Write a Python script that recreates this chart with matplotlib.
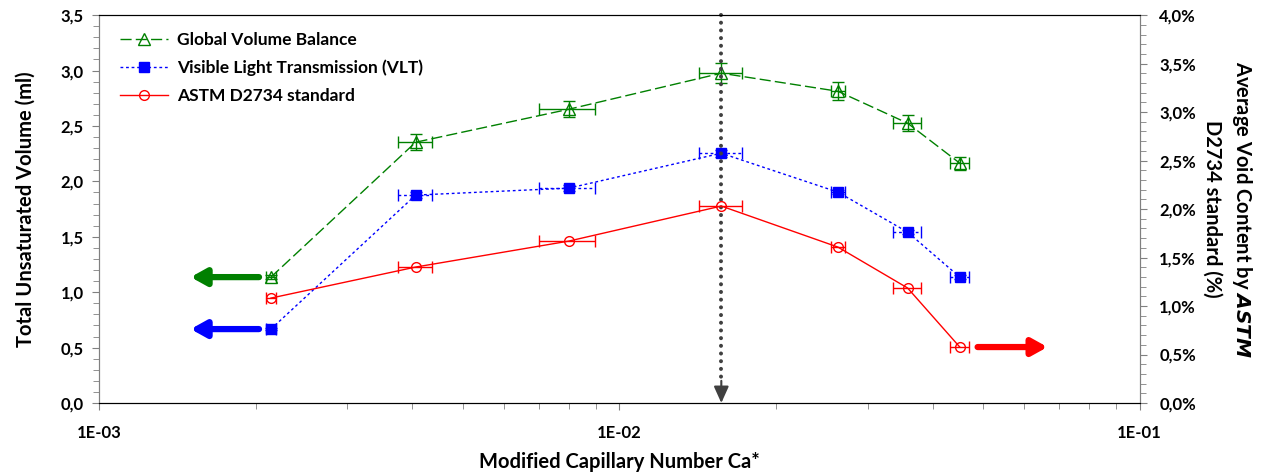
import numpy as np
import matplotlib
matplotlib.use('Agg')
import matplotlib.pyplot as plt
from matplotlib.ticker import FuncFormatter, LogLocator, MultipleLocator

plt.rcParams['font.family'] = ['Lato', 'DejaVu Sans']
plt.rcParams['font.weight'] = 'bold'
plt.rcParams['mathtext.fontset'] = 'custom'
plt.rcParams['mathtext.it'] = 'DejaVu Sans:italic:bold'
plt.rcParams['mathtext.bf'] = 'Lato:bold'
plt.rcParams['mathtext.rm'] = 'Lato:bold'

# capillary numbers and their spread
ca = [2.14e-3, 4.06e-3, 8.0e-3, 1.57e-2, 2.63e-2, 3.58e-2, 4.51e-2]
ca_err = [0.05e-3, 0.30e-3, 0.99e-3, 1.48e-3, 0.8e-3, 2.25e-3, 1.87e-3]

# global volume balance (ml)
gvb = [1.136, 2.353, 2.651, 2.976, 2.813, 2.525, 2.164]
gvb_err = [0.02, 0.07, 0.07, 0.09, 0.08, 0.07, 0.06]

# visible light transmission (ml)
vlt = [0.667, 1.876, 1.939, 2.254, 1.903, 1.542, 1.136]
vlt_err = [0.01, 0.03, 0.03, 0.03, 0.02, 0.02, 0.02]

# ASTM D2734 void content (%)
astm = [1.082, 1.402, 1.670, 2.031, 1.608, 1.186, 0.577]

ca_peak = 1.57e-2

green = '#008000'
blue = '#0000FF'
red = '#FF0000'

fig = plt.figure(figsize=(12.63, 4.73), dpi=100)
ax = fig.add_axes([0.0784, 0.148, 0.824, 0.820])
ax2 = ax.twinx()

# error bars first, then the lines with markers on top
ax.errorbar(ca, gvb, xerr=ca_err, yerr=gvb_err, fmt='none', ecolor=green,
            elinewidth=1, capsize=4, capthick=1)
eb2 = ax.errorbar(ca, vlt, xerr=ca_err, yerr=vlt_err, fmt='none', ecolor=blue,
                  elinewidth=1, capsize=4, capthick=1)
for lc in eb2[2]:
    lc.set_linestyle((0, (2, 2)))
ax2.errorbar(ca, astm, xerr=ca_err, fmt='none', ecolor=red,
             elinewidth=1, capsize=4, capthick=1)

l1, = ax.plot(ca, gvb, color=green, lw=1, ls=(0, (8, 3)), marker='^', ms=8,
              mfc='none', mec=green, mew=1)
l2, = ax.plot(ca, vlt, color=blue, lw=1, ls=(0, (2, 2)), marker='s', ms=7,
              mfc=blue, mec=blue)
l3, = ax2.plot(ca, astm, color=red, lw=1, ls='-', marker='o', ms=7,
               mfc='none', mec=red, mew=1)

# dotted guide at the peak
ax.plot([ca_peak, ca_peak], [3.5, 0.2], color='#404040', lw=2.9,
        ls=(0, (0.01, 1.9)), dash_capstyle='round', zorder=5, clip_on=False)
ax.annotate('', xy=(ca_peak, 0.0), xytext=(ca_peak, 0.2),
            arrowprops=dict(arrowstyle='-|>,head_length=1.0,head_width=0.45',
                            color='#404040', lw=1.5, shrinkA=0, shrinkB=0),
            zorder=6)

# arrows pointing to the relevant axis
ax.annotate('', xy=(1.50e-3, gvb[0]), xytext=(2.03e-3, gvb[0]),
            arrowprops=dict(arrowstyle='-|>,head_length=0.9,head_width=0.5',
                            color=green, lw=4.5, shrinkA=0, shrinkB=0))
ax.annotate('', xy=(1.50e-3, vlt[0]), xytext=(2.03e-3, vlt[0]),
            arrowprops=dict(arrowstyle='-|>,head_length=0.9,head_width=0.5',
                            color=blue, lw=4.5, shrinkA=0, shrinkB=0))
ax2.annotate('', xy=(6.65e-2, astm[-1]), xytext=(4.88e-2, astm[-1]),
             arrowprops=dict(arrowstyle='-|>,head_length=0.9,head_width=0.5',
                             color=red, lw=4.5, shrinkA=0, shrinkB=0))

ax.set_xscale('log')
ax.set_xlim(1e-3, 1e-1)
ax.set_ylim(0, 3.5)
ax2.set_ylim(0, 4)

ax.xaxis.set_major_locator(LogLocator(base=10, numticks=5))
ax.xaxis.set_minor_locator(LogLocator(base=10, subs=np.arange(2, 10), numticks=20))
ax.xaxis.set_major_formatter(FuncFormatter(lambda v, p: '1E-%02d' % round(-np.log10(v))))
ax.xaxis.set_minor_formatter(FuncFormatter(lambda v, p: ''))

ax.yaxis.set_major_locator(MultipleLocator(0.5))
ax.yaxis.set_minor_locator(MultipleLocator(0.1))
ax.yaxis.set_major_formatter(FuncFormatter(lambda v, p: f'{v:.1f}'.replace('.', ',')))
ax2.yaxis.set_major_locator(MultipleLocator(0.5))
ax2.yaxis.set_minor_locator(MultipleLocator(0.1))
ax2.yaxis.set_major_formatter(FuncFormatter(lambda v, p: f'{v:.1f}%'.replace('.', ',')))

for a in (ax, ax2):
    a.tick_params(which='both', direction='out', color='#808080', labelsize=12)
    a.tick_params(which='major', length=5, pad=6)
    a.tick_params(which='minor', length=4)
    a.spines['left'].set_color('#808080')
    a.spines['right'].set_color('#808080')
ax.tick_params(axis='x', which='both', pad=11)
ax2.tick_params(axis='y', which='major', pad=9)

ax.set_xlabel('Modified Capillary Number Ca*', fontsize=14.5, fontweight='bold', labelpad=8)
ax.set_ylabel('Total Unsaturated Volume (ml)', fontsize=14.5, fontweight='bold', labelpad=18)
ax2.set_ylabel('Average Void Content by $\\mathit{ASTM}$\nD2734 standard (%)',
               fontsize=14.5, fontweight='bold', rotation=270, labelpad=42,
               linespacing=1.5)

ax2.legend([l1, l2, l3],
           ['Global Volume Balance', 'Visible Light Transmission (VLT)', 'ASTM D2734 standard'],
           loc='upper left', bbox_to_anchor=(0.003, 1.0), frameon=False,
           prop={'size': 12.5, 'weight': 'bold'}, handlelength=2.8,
           handletextpad=0.5, labelspacing=0.65, borderaxespad=0.6)

fig.savefig('out.png', dpi=100)
